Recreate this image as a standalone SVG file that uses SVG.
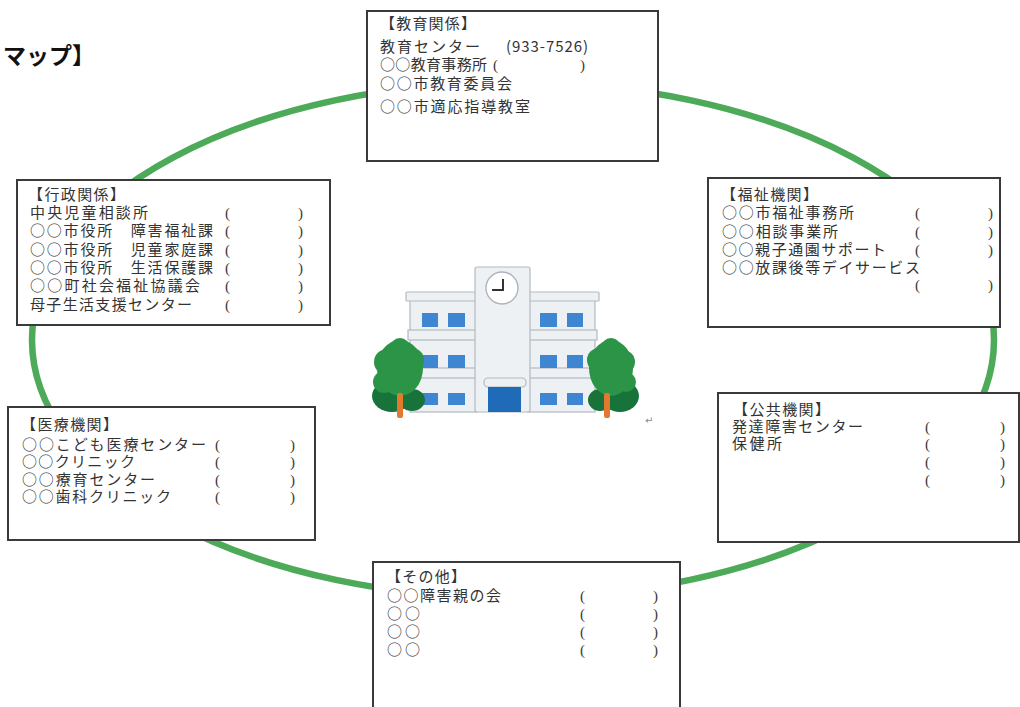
<svg xmlns="http://www.w3.org/2000/svg" width="1020" height="707" viewBox="0 0 1020 707">
  <style>
    .box { fill: #ffffff; stroke: #3a3a3a; stroke-width: 2; }
    .t { font-family: "Noto Sans CJK JP", "Noto Sans", sans-serif; font-size: 15px; fill: #333333; }
    .p { font-family: "Liberation Serif", serif; font-size: 15px; fill: #3a3a3a; }
    .title { font-family: "Noto Sans CJK JP", sans-serif; font-size: 23px; font-weight: 700; fill: #111; }
    .wall { fill: #eef1f4; stroke: #b3b9c0; stroke-width: 1.2; }
    .win { fill: #3f86d2; }
    .leaf { fill: #2b9446; }
    .leafdark { fill: #17733a; }
    .trunk { fill: #e2792e; }
  </style>

  <rect width="1020" height="707" fill="#ffffff"/>

  <!-- page title (partly outside the page) -->
  <text class="title" x="95" y="64" text-anchor="end">マップ】</text>

  <!-- ring linking the organisations -->
  <g id="connectors">
    <ellipse cx="513" cy="340" rx="481" ry="258" fill="none" stroke="#4caa58" stroke-width="6.5"/>
  </g>

  <!-- school illustration -->
  <g id="school">
    <rect class="wall" x="410" y="300" width="67" height="112"/>
    <rect class="wall" x="406" y="292" width="72" height="9" rx="1"/>
    <rect class="wall" x="408" y="330" width="70" height="10"/>
    <rect class="wall" x="408" y="368" width="70" height="10"/>
    <rect class="wall" x="528" y="300" width="67" height="112"/>
    <rect class="wall" x="527" y="292" width="72" height="9" rx="1"/>
    <rect class="wall" x="527" y="330" width="70" height="10"/>
    <rect class="wall" x="527" y="368" width="70" height="10"/>
    <rect class="wall" x="475" y="267" width="55" height="145" rx="2"/>
    <circle cx="502" cy="288" r="16" fill="#ffffff" stroke="#aeb4bb" stroke-width="1.4"/>
    <path d="M503 279 V290 H492" fill="none" stroke="#333" stroke-width="2"/>
    <!-- windows -->
    <rect class="win" x="422" y="313" width="16" height="14"/>
    <rect class="win" x="448" y="313" width="17" height="14"/>
    <rect class="win" x="422" y="355" width="16" height="13"/>
    <rect class="win" x="448" y="355" width="17" height="13"/>
    <rect class="win" x="422" y="393" width="16" height="12"/>
    <rect class="win" x="448" y="393" width="17" height="12"/>
    <rect class="win" x="540" y="313" width="17" height="14"/>
    <rect class="win" x="567" y="313" width="16" height="14"/>
    <rect class="win" x="540" y="355" width="17" height="13"/>
    <rect class="win" x="567" y="355" width="16" height="13"/>
    <rect class="win" x="540" y="393" width="17" height="12"/>
    <rect class="win" x="567" y="393" width="16" height="12"/>
    <!-- entrance -->
    <rect class="wall" x="484" y="378" width="42" height="9" rx="4"/>
    <rect x="488" y="387" width="33" height="25" fill="#1f6bb8"/>
    <!-- left tree -->
    <ellipse class="leafdark" cx="392" cy="396" rx="20" ry="16"/>
    <ellipse class="leafdark" cx="412" cy="400" rx="13" ry="11"/>
    <ellipse class="leaf" cx="400" cy="368" rx="23" ry="28"/>
    <circle class="leaf" cx="387" cy="362" r="13"/>
    <circle class="leaf" cx="412" cy="360" r="12"/>
    <circle class="leaf" cx="400" cy="348" r="10"/>
    <circle class="leaf" cx="384" cy="382" r="11"/>
    <rect class="trunk" x="397" y="393" width="6" height="25" rx="2"/>
    <!-- right tree -->
    <ellipse class="leafdark" cx="620" cy="396" rx="19" ry="16"/>
    <ellipse class="leafdark" cx="600" cy="400" rx="12" ry="11"/>
    <ellipse class="leaf" cx="611" cy="368" rx="22" ry="28"/>
    <circle class="leaf" cx="599" cy="360" r="12"/>
    <circle class="leaf" cx="623" cy="362" r="12"/>
    <circle class="leaf" cx="611" cy="348" r="10"/>
    <circle class="leaf" cx="626" cy="382" r="10"/>
    <rect class="trunk" x="604" y="393" width="6" height="25" rx="2"/>
    <text x="645" y="424" font-family="DejaVu Sans, sans-serif" font-size="10" fill="#888">↵</text>
  </g>

  <!-- education -->
  <g id="node-education">
    <rect class="box" x="367" y="11" width="291" height="150"/>
    <text class="t" x="380" y="29" textLength="96" lengthAdjust="spacing">【教育関係】</text>
    <text class="t" x="380" y="52" textLength="100" lengthAdjust="spacing">教育センター</text>
    <text class="t" x="506" y="52" textLength="82" lengthAdjust="spacing" font-family="Liberation Sans, sans-serif">(933-7526)</text>
    <text class="t" x="380" y="70" textLength="107" lengthAdjust="spacing">○○教育事務所</text>
    <text class="p" x="493" y="70">(</text>
    <text class="p" x="580" y="70">)</text>
    <text class="t" x="380" y="89" textLength="132" lengthAdjust="spacing">○○市教育委員会</text>
    <text class="t" x="380" y="112" textLength="150" lengthAdjust="spacing">○○市適応指導教室</text>
  </g>

  <!-- administration -->
  <g id="node-administration">
    <rect class="box" x="17" y="180" width="313" height="145"/>
    <text class="t" x="28" y="200" textLength="97" lengthAdjust="spacing">【行政関係】</text>
    <text class="t" x="30" y="218" textLength="118" lengthAdjust="spacing">中央児童相談所</text>
    <text class="t" x="30" y="236" textLength="183" lengthAdjust="spacing">○○市役所　障害福祉課</text>
    <text class="t" x="30" y="255" textLength="183" lengthAdjust="spacing">○○市役所　児童家庭課</text>
    <text class="t" x="30" y="273" textLength="183" lengthAdjust="spacing">○○市役所　生活保護課</text>
    <text class="t" x="30" y="291" textLength="170" lengthAdjust="spacing">○○町社会福祉協議会</text>
    <text class="t" x="30" y="310" textLength="162" lengthAdjust="spacing">母子生活支援センター</text>
    <g class="p">
      <text x="225" y="218">(</text><text x="298" y="218">)</text>
      <text x="225" y="236">(</text><text x="298" y="236">)</text>
      <text x="225" y="255">(</text><text x="298" y="255">)</text>
      <text x="225" y="273">(</text><text x="298" y="273">)</text>
      <text x="225" y="291">(</text><text x="298" y="291">)</text>
      <text x="225" y="310">(</text><text x="298" y="310">)</text>
    </g>
  </g>

  <!-- welfare -->
  <g id="node-welfare">
    <rect class="box" x="708" y="178" width="292" height="149"/>
    <text class="t" x="721" y="200" textLength="97" lengthAdjust="spacing">【福祉機関】</text>
    <text class="t" x="722" y="218" textLength="132" lengthAdjust="spacing">○○市福祉事務所</text>
    <text class="t" x="722" y="237" textLength="116" lengthAdjust="spacing">○○相談事業所</text>
    <text class="t" x="722" y="255" textLength="164" lengthAdjust="spacing">○○親子通園サポート</text>
    <text class="t" x="722" y="273" textLength="198" lengthAdjust="spacing">○○放課後等デイサービス</text>
    <g class="p">
      <text x="915" y="218">(</text><text x="988" y="218">)</text>
      <text x="915" y="237">(</text><text x="988" y="237">)</text>
      <text x="915" y="255">(</text><text x="988" y="255">)</text>
      <text x="915" y="290">(</text><text x="988" y="290">)</text>
    </g>
  </g>

  <!-- medical -->
  <g id="node-medical">
    <rect class="box" x="8" y="407" width="307" height="133"/>
    <text class="t" x="21" y="430" textLength="97" lengthAdjust="spacing">【医療機関】</text>
    <text class="t" x="22" y="450" textLength="184" lengthAdjust="spacing">○○こども医療センター</text>
    <text class="t" x="22" y="467" textLength="113" lengthAdjust="spacing">○○クリニック</text>
    <text class="t" x="22" y="485" textLength="133" lengthAdjust="spacing">○○療育センター</text>
    <text class="t" x="22" y="502" textLength="149" lengthAdjust="spacing">○○歯科クリニック</text>
    <g class="p">
      <text x="215" y="450">(</text><text x="290" y="450">)</text>
      <text x="215" y="467">(</text><text x="290" y="467">)</text>
      <text x="215" y="485">(</text><text x="290" y="485">)</text>
      <text x="215" y="502">(</text><text x="290" y="502">)</text>
    </g>
  </g>

  <!-- public -->
  <g id="node-public">
    <rect class="box" x="718" y="393" width="301" height="149"/>
    <text class="t" x="733" y="415" textLength="97" lengthAdjust="spacing">【公共機関】</text>
    <text class="t" x="732" y="432" textLength="131" lengthAdjust="spacing">発達障害センター</text>
    <text class="t" x="732" y="449" textLength="50" lengthAdjust="spacing">保健所</text>
    <g class="p">
      <text x="925" y="432">(</text><text x="1000" y="432">)</text>
      <text x="925" y="449">(</text><text x="1000" y="449">)</text>
      <text x="925" y="467">(</text><text x="1000" y="467">)</text>
      <text x="925" y="485">(</text><text x="1000" y="485">)</text>
    </g>
  </g>

  <!-- other -->
  <g id="node-other">
    <rect class="box" x="373" y="562" width="307" height="150"/>
    <text class="t" x="386" y="582" textLength="80" lengthAdjust="spacing">【その他】</text>
    <text class="t" x="387" y="601" textLength="114" lengthAdjust="spacing">○○障害親の会</text>
    <text class="t" x="387" y="619" textLength="33" lengthAdjust="spacing">○○</text>
    <text class="t" x="387" y="637" textLength="33" lengthAdjust="spacing">○○</text>
    <text class="t" x="387" y="655" textLength="33" lengthAdjust="spacing">○○</text>
    <g class="p">
      <text x="580" y="601">(</text><text x="653" y="601">)</text>
      <text x="580" y="619">(</text><text x="653" y="619">)</text>
      <text x="580" y="637">(</text><text x="653" y="637">)</text>
      <text x="580" y="655">(</text><text x="653" y="655">)</text>
    </g>
  </g>
</svg>
